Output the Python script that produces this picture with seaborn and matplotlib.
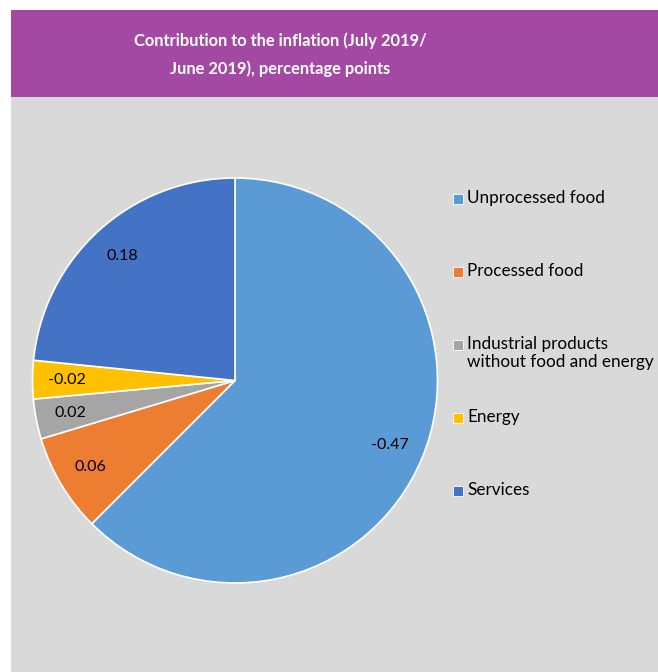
import matplotlib
matplotlib.use("Agg")
import matplotlib.pyplot as plt
from matplotlib.patches import Rectangle
import seaborn as sns

# ---- data ----
categories = ["Unprocessed food", "Processed food",
              "Industrial products\nwithout food and energy", "Energy", "Services"]
contributions = [-0.47, 0.059, 0.024, -0.023, 0.176]
value_labels = ["-0.47", "0.06", "0.02", "-0.02", "0.18"]
colors = ["#5B9BD5", "#ED7D31", "#A5A5A5", "#FFC000", "#4472C4"]
title = "Contribution to the inflation (July 2019/\nJune 2019), percentage points"

sns.set_theme(style="white")
plt.rcParams['font.family'] = ['Lato', 'DejaVu Sans']

W, H = 658, 672
fig = plt.figure(figsize=(W / 100, H / 100), dpi=100)
fig.patch.set_facecolor("white")

def fx(x):
    return x / W

def fy(y):
    return 1 - y / H

# background panels
fig.patches.append(Rectangle((fx(11), fy(672)), fx(658) - fx(11), (672 - 97) / H,
                             transform=fig.transFigure, facecolor="#D9D9D9",
                             edgecolor="none", zorder=-5))
fig.patches.append(Rectangle((fx(11), fy(97)), fx(658) - fx(11), (97 - 10) / H,
                             transform=fig.transFigure, facecolor="#A349A4",
                             edgecolor="none", zorder=-5))
fig.text(fx(280), fy(55), title, ha="center", va="center", color="white",
         fontsize=11.9, fontweight="bold", linespacing=1.85)

# pie
cx, cy, r = 235, 380.5, 202.5
ax = fig.add_axes([fx(cx - r), fy(cy + r), 2 * r / W, 2 * r / H])
ax.set_zorder(5)
ax.patch.set_visible(False)
sizes = [abs(v) for v in contributions]
wedges, texts = ax.pie(sizes, colors=colors, startangle=90, counterclock=False,
                       radius=1, labels=value_labels, labeldistance=0.83,
                       wedgeprops=dict(edgecolor="white", linewidth=1.2,
                                       clip_on=False),
                       textprops=dict(fontsize=11.5, color="black"))
for t in texts:
    t.set_ha("center")
    t.set_va("center")
ax.set_xlim(-1, 1)
ax.set_ylim(-1, 1)
ax.set_aspect("equal")
ax.axis("off")

# legend
for i, (name, col) in enumerate(zip(categories, colors)):
    y = 198.5 + 73.2 * i
    fig.patches.append(Rectangle((fx(453), fy(y + 5)), 10 / W, 10 / H,
                                 transform=fig.transFigure, facecolor=col,
                                 edgecolor="white", linewidth=0.6, zorder=3))
    fig.text(fx(467), fy(y - 9), name, ha="left", va="top", fontsize=12.3,
             color="black", linespacing=1.2)

fig.savefig("out.png", dpi=100)
